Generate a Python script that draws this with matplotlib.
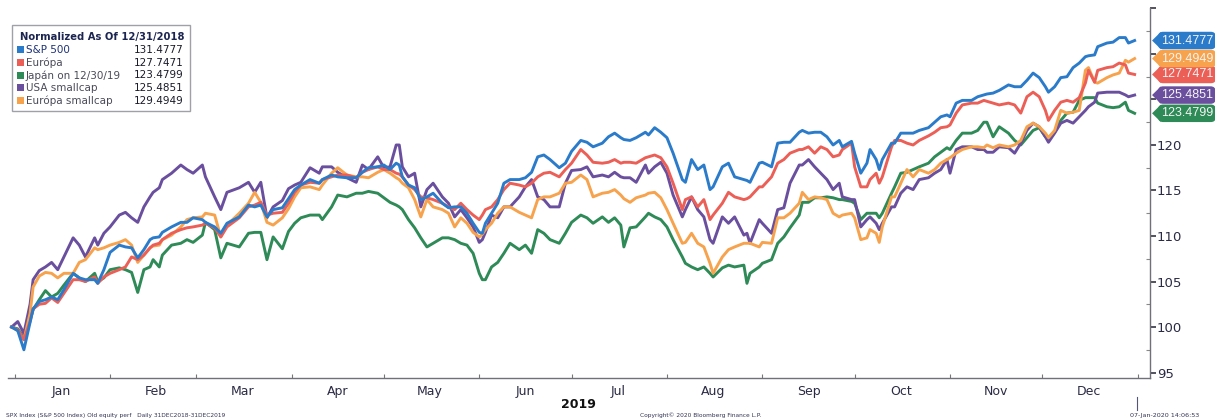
import matplotlib
matplotlib.use("Agg")
import matplotlib.pyplot as plt
import matplotlib.dates as mdates
import matplotlib.transforms as mtrans
from matplotlib.patches import Rectangle, Polygon
import pandas as pd

# ---------------- data ----------------
START = "2018-12-31"
DAYS = [0, 2, 4, 6, 7, 9, 11, 13, 15, 17, 20, 22, 24, 27, 28, 30, 32, 35, 37, 39,
        41, 43, 45, 46, 48, 49, 52, 55, 57, 59, 62, 63, 66, 68, 70, 74, 77, 79, 81, 83,
        85, 88, 90, 92, 94, 97, 100, 101, 104, 106, 109, 112, 114, 116, 119, 121, 123, 125, 126, 127,
        129, 131, 133, 135, 137, 140, 142, 144, 146, 148, 150, 152, 153, 154, 156, 158, 160, 162, 165, 167,
        169, 171, 173, 175, 178, 180, 182, 185, 187, 189, 192, 194, 196, 198, 199, 201, 203, 206, 207, 209,
        211, 213, 215, 218, 219, 221, 223, 225, 227, 228, 231, 233, 235, 238, 239, 240, 243, 244, 247, 249,
        251, 253, 256, 257, 259, 261, 263, 265, 267, 269, 270, 273, 274, 276, 278, 279, 281, 282, 283, 286,
        287, 289, 291, 293, 295, 298, 300, 302, 304, 305, 307, 309, 312, 314, 316, 317, 319, 321, 324, 326,
        328, 330, 332, 334, 336, 337, 339, 341, 343, 345, 347, 349, 350, 352, 353, 356, 358, 360, 362, 363,
        365]

SPX = [100, 99.6, 97.5, 100.5, 102, 102.8, 103, 103.3, 103, 104.1, 105.9, 105.4, 105.2, 105.2, 104.8, 106.3, 108.2, 109, 108.8, 108.7,
       107.6, 108.5, 109.6, 109.8, 109.9, 110.4, 111, 111.5, 111.5, 112, 111.8, 111.5, 111, 110.3, 111.4, 112.1, 113.4, 113.2, 113.4, 112.1,
       112.9, 113.1, 114.1, 115.1, 115.6, 116.2, 115.8, 116.2, 116.7, 116.5, 116.4, 116.4, 117, 117.5, 117.6, 117.8, 117.3, 118, 117.8, 116.5,
       115.6, 115.3, 114, 114.3, 114.7, 113.6, 113.1, 113.2, 113.2, 112.5, 111.4, 110.4, 110.3, 111.4, 112.5, 113.6, 115.8, 116.2, 116.2, 116.4,
       117, 118.7, 118.9, 118.4, 117.5, 118, 119.3, 120.5, 120.3, 119.8, 120.2, 120.9, 121.3, 120.8, 120.6, 120.5, 120.8, 121.4, 121.1, 121.9,
       121.4, 120.8, 119.1, 116.2, 115.9, 118.4, 117.3, 117.8, 115.1, 115.4, 117.6, 118, 116.5, 116.2, 116.1, 115.9, 118, 118.1, 117.6, 120.2,
       120.3, 120.3, 121.4, 121.6, 121.3, 121.4, 121.4, 120.9, 120, 120.5, 119.8, 120.4, 119.1, 116.9, 118, 119.5, 118.4, 117.3, 118.4, 120.2,
       120.2, 121.3, 121.3, 121.3, 121.6, 121.9, 122.5, 123.1, 123.3, 123.1, 124.6, 124.9, 124.9, 125.3, 125.5, 125.6, 125.7, 126, 126.6, 126.4,
       126.4, 127.1, 127.9, 127.4, 126.4, 125.8, 126.4, 127.4, 127.5, 128.5, 129, 129.7, 129.8, 129.9, 130.8, 131.2, 131.3, 131.8, 131.8, 131.2,
       131.4777]

EUROPA = [100, 99.7, 98.6, 100.6, 102, 102.5, 102.6, 103.2, 102.7, 103.7, 105.2, 105.2, 105, 105.5, 104.8, 105.5, 105.9, 106.3, 106.6, 107.7,
          107.4, 107.9, 108.7, 109, 109.2, 109.6, 110.3, 110.7, 110.9, 111, 111.2, 111.4, 110.9, 109.9, 111, 112, 113.2, 113.4, 113.7, 112.3,
          112.5, 112.6, 113.6, 114.8, 115.6, 115.9, 115.8, 116.2, 116.5, 116.7, 116.7, 116.4, 117, 117.3, 117.6, 117.3, 117.3, 116.9, 116.8, 116.5,
          115.6, 115.1, 114.3, 114.2, 114, 113.6, 113.2, 112.9, 113.6, 112.9, 112.3, 111.8, 112.3, 112.9, 113.2, 114, 115.1, 115.8, 115.6, 115.4,
          115.8, 116.5, 116.9, 117, 116.5, 117.3, 118, 119.5, 118.9, 118.1, 118, 118.1, 118.4, 118, 118.1, 118.1, 118, 118.6, 118.7, 118.9,
          118.6, 117.6, 115.8, 112.9, 114, 114.3, 113.2, 114, 111.8, 112.3, 113.6, 114.8, 114.3, 114, 114.1, 114.3, 115.4, 115.4, 116.5, 118,
          118.4, 119.1, 119.5, 119.5, 119.8, 119.1, 119.8, 119.5, 118.7, 118.9, 119.5, 120.2, 117.6, 115.4, 115.4, 116.2, 116.9, 115.8, 116.5, 119.8,
          120.5, 120.5, 120.2, 120, 120.5, 121, 121.4, 121.9, 122, 122.2, 123.5, 124.4, 124.6, 124.6, 124.9, 124.8, 124.6, 124.4, 124.6, 124.4,
          123.5, 125.3, 125.8, 125.3, 123.8, 122.7, 123.8, 124.7, 124.9, 124.7, 125.2, 126.8, 128.2, 126.9, 128.2, 128.5, 128.6, 129, 128.8, 127.9,
          127.7471]

JAPAN = [100, 99.8, 98.8, 100.8, 101.9, 103, 104, 103.3, 103.7, 104.6, 105.9, 105.4, 105, 105.9, 105, 105.4, 106.3, 106.5, 106.3, 106,
         103.8, 106.3, 106.6, 107.4, 106.6, 107.9, 109, 109.2, 109.6, 109.3, 110.1, 111.5, 110.7, 107.6, 109.2, 108.8, 110.3, 110.4, 110.4, 107.4,
         109.9, 108.6, 110.5, 111.4, 112, 112.3, 112.3, 111.8, 113.2, 114.5, 114.3, 114.7, 114.7, 114.9, 114.7, 114.2, 113.7, 113.4, 113.2, 112.9,
         111.8, 110.9, 109.8, 108.8, 109.2, 109.8, 109.8, 109.6, 109.2, 109, 108.1, 105.9, 105.2, 105.2, 106.6, 107.1, 108.1, 109.2, 108.5, 109,
         108.1, 110.7, 110.3, 109.6, 109.2, 110.3, 111.5, 112.3, 112, 111.4, 112.1, 111.5, 112, 111.2, 108.8, 110.9, 111, 112.1, 112.5, 112.1,
         111.8, 111, 109.6, 107.7, 107, 106.6, 106.3, 106.6, 105.9, 105.5, 106.5, 106.8, 106.6, 106.8, 104.8, 105.9, 106.6, 107, 107.4, 109.2,
         109.9, 110.9, 112.3, 113.7, 113.7, 114.2, 114.2, 114.3, 114.2, 114, 114, 113.8, 113.6, 111.8, 112.5, 112.5, 112.5, 112, 112.5, 114.7,
         115.4, 116.9, 117, 117.3, 117.6, 118, 118.7, 119.2, 119.7, 119.5, 120.5, 121.3, 121.3, 121.6, 122.5, 122.5, 120.9, 122, 121.3, 120.5,
         120, 120.8, 121.6, 121.9, 120.9, 120.8, 121.4, 122.7, 123.5, 123.6, 124.9, 125.2, 125.2, 125.2, 124.6, 124.2, 124.1, 124.2, 124.7, 123.8,
         123.4799]

USA_SMALLCAP = [100, 100.6, 99.3, 102.5, 105.2, 106.2, 106.6, 107.1, 106.3, 107.7, 109.8, 109, 107.7, 109.8, 109, 110.3, 111, 112.3, 112.6, 112,
                111.5, 113.2, 114.3, 114.8, 115.3, 116.2, 116.9, 117.8, 117.3, 116.9, 117.8, 116.5, 114.3, 112.9, 114.8, 115.3, 115.9, 114.8, 115.9, 112,
                113.2, 113.9, 115.2, 115.6, 115.9, 117.5, 116.9, 117.6, 117.6, 117, 116.4, 115.9, 117.8, 117.3, 118.7, 117.5, 117.6, 120, 120, 117.6,
                116.5, 116.9, 113.2, 115.1, 115.8, 114.3, 113.6, 112.1, 112.9, 112, 111, 109.3, 109.6, 110.4, 112.3, 112, 113.2, 113.2, 114.3, 115.4,
                116.2, 114.3, 114, 113.2, 113.2, 115.8, 117.2, 117.3, 117.6, 116.5, 116.7, 116.5, 117, 116.5, 116.4, 116.4, 115.9, 117.8, 116.9, 117.6,
                118.1, 116.9, 114.5, 112.1, 112.9, 114.3, 112.9, 112.1, 109.6, 109.2, 112.1, 111.4, 112.1, 110.1, 110.3, 109.2, 111.8, 111.4, 110.3, 112.9,
                113.1, 115.8, 117.8, 117.8, 118.4, 117.6, 116.9, 116.2, 115.1, 115.8, 114.3, 114, 114, 111, 111.8, 112.1, 111.4, 110.7, 111.4, 113.2,
                113.2, 114.7, 115.4, 115.1, 116.2, 116.4, 116.9, 117.3, 118.4, 116.9, 119.5, 119.8, 119.8, 119.5, 119.5, 119.2, 119.2, 119.8, 119.7, 119.1,
                120.2, 121.6, 122.4, 122, 120.9, 120.3, 121.3, 122.4, 122.7, 122.4, 123.1, 123.8, 124.2, 124.7, 125.7, 125.8, 125.8, 125.8, 125.5, 125.3,
                125.4851]

EUROPA_SMALLCAP = [100, 99.6, 98.6, 101.5, 104.4, 105.6, 106, 105.9, 105.4, 105.9, 105.9, 107.1, 107.4, 108.7, 108.5, 108.7, 109, 109.3, 109.6, 109,
                   107.1, 107.9, 108.7, 108.9, 109, 109.6, 110.1, 111, 111.8, 112, 112.1, 112.5, 112.3, 109.9, 111.2, 112.5, 113.6, 114.8, 113.7, 111.5,
                   111.2, 112, 113, 114.3, 115.3, 115.4, 115.1, 115.6, 116.9, 117.5, 116.7, 116.5, 116.5, 116.4, 117, 117.3, 116.9, 116.4, 116.2, 115.8,
                   115.3, 114, 112.1, 114, 113.2, 112.9, 112.5, 111, 112, 111.4, 110.4, 109.9, 110.2, 110.7, 111.4, 112.5, 113.2, 113.2, 112.6, 112.3,
                   112, 114, 114.3, 114.3, 114.7, 115.8, 115.9, 116.7, 116.2, 114.3, 114.7, 114.8, 115.1, 114.5, 114.1, 113.7, 114.2, 114.5, 114.7, 114.8,
                   114.2, 112.9, 111.4, 109.2, 109.3, 110.3, 109.2, 108.8, 107, 105.9, 107.7, 108.5, 108.8, 109.2, 109.2, 109.2, 108.8, 109.3, 109.2, 112,
                   112, 112.5, 113.6, 114.8, 114, 114.3, 114.2, 114, 112.5, 112.1, 112.3, 112.5, 112, 109.6, 109.8, 110.7, 110.3, 109.3, 111, 114.3,
                   114.3, 115.8, 117.3, 116.5, 117.3, 116.9, 117.3, 118, 118.4, 118.6, 119.1, 119.5, 119.8, 119.8, 119.7, 120, 119.7, 120, 119.8, 120,
                   120.5, 122, 122.4, 122, 121.3, 120.8, 121.6, 123.8, 123.5, 123.6, 123.8, 128.2, 128.5, 126.9, 126.8, 127.4, 127.7, 127.9, 129.3, 129.1,
                   129.4949]

SERIES_NAMES = ["S&P 500", "Európa", "Japán on 12/30/19", "USA smallcap", "Európa smallcap"]
LAST_VALUES = ["131.4777", "127.7471", "123.4799", "125.4851", "129.4949"]
MONTH_LABELS = ["Jan", "Feb", "Mar", "Apr", "May", "Jun", "Jul", "Aug", "Sep", "Oct", "Nov", "Dec"]
Y_TICKS = [95, 100, 105, 110, 115, 120]
LEGEND_TITLE = "Normalized As Of 12/31/2018"
YEAR_LABEL = "2019"
FOOT_LEFT = "SPX Index (S&P 500 Index) Old equity perf   Daily 31DEC2018-31DEC2019"
FOOT_MID = "Copyright\u00a9 2020 Bloomberg Finance L.P."
FOOT_RIGHT = "07-Jan-2020 14:06:53"

# ---------------- styling ----------------
COLORS = ["#2b7bcb", "#ec5f57", "#2e8a57", "#6a4f9f", "#f7a24c"]
TEXT = "#2a2a44"
W, H = 1215, 419

def fx(px):
    return px / W

def fy(py):
    return 1 - py / H

dates = pd.Timestamp(START) + pd.to_timedelta(DAYS, unit="D")
series = [SPX, EUROPA, JAPAN, USA_SMALLCAP, EUROPA_SMALLCAP]

fig = plt.figure(figsize=(W / 100, H / 100), dpi=100)
fig.patch.set_facecolor("white")
ax = fig.add_axes([fx(8), fy(378), fx(1150) - fx(8), fy(8) - fy(378)])

# draw order: green, purple, orange, red, blue on top
for idx in [2, 3, 4, 1, 0]:
    ax.plot(dates, series[idx], color=COLORS[idx], lw=2.1, solid_joinstyle="round")

ax.set_xlim(pd.Timestamp("2018-12-29 20:00"), pd.Timestamp("2020-01-05"))
ax.set_ylim(94.4, 135.05)

for s in ["left", "top"]:
    ax.spines[s].set_visible(False)
ax.spines["bottom"].set_color("#6f7078")
ax.spines["right"].set_color("#6f7078")
ax.spines["bottom"].set_linewidth(1.0)
ax.spines["right"].set_linewidth(1.0)

# y axis on right
ax.yaxis.tick_right()
ax.set_yticks(Y_TICKS + [125, 130, 135])
ax.set_yticklabels([str(v) for v in Y_TICKS] + ["", "", ""])
ax.set_yticks([97.5 + 5 * i for i in range(8)], minor=True)
ax.tick_params(axis="y", which="major", direction="out", length=4, width=1.2,
               colors="#333344", labelsize=9.5, pad=1, labelcolor=TEXT)
ax.tick_params(axis="y", which="minor", direction="in", length=3, width=0.8, colors="#888888")

# x axis: ticks at month starts, labels at month middles
ax.xaxis.set_major_locator(mdates.MonthLocator(bymonthday=1))
ax.xaxis.set_major_formatter(plt.NullFormatter())
ax.xaxis.set_minor_locator(mdates.MonthLocator(bymonthday=16))
ax.xaxis.set_minor_formatter(plt.FuncFormatter(lambda v, p: MONTH_LABELS[mdates.num2date(v).month - 1]))
ax.tick_params(axis="x", which="major", direction="in", length=3, width=0.8, colors="#777777")
ax.tick_params(axis="x", which="minor", length=0, labelsize=9, pad=5, labelcolor=TEXT)
ax.grid(False)

# right-hand value tags
blend = mtrans.blended_transform_factory(ax.transAxes, ax.transData)
last_vals = [float(v) for v in LAST_VALUES]
for val, txt, col in zip(last_vals, LAST_VALUES, COLORS):
    ax.text(1.0095, val, txt, transform=blend, ha="left", va="center",
            fontsize=9, family=["Liberation Sans", "DejaVu Sans"],
            color="#f4f4f4", clip_on=False, zorder=10,
            bbox=dict(boxstyle="round,pad=0.22,rounding_size=0.4", fc=col, ec="none"))
    tri = Polygon([[1.0018, val], [1.0095, val + 0.95], [1.0095, val - 0.95]],
                  closed=True, transform=blend, fc=col, ec="none", clip_on=False, zorder=9)
    ax.add_patch(tri)

# legend box
fig.patches.append(Rectangle((fx(12), fy(111)), fx(190) - fx(12), fy(25) - fy(111),
                             transform=fig.transFigure, fc="white", ec="#a0a0a8", lw=1.0, zorder=5))
fig.text(fx(20), fy(37), LEGEND_TITLE, fontsize=7.2, fontweight="bold", color="#1c2450",
         va="center", ha="left", zorder=6)
row_y = [50, 63, 75.5, 88, 100.5]
for i, (name, val, col) in enumerate(zip(SERIES_NAMES, LAST_VALUES, COLORS)):
    fig.patches.append(Rectangle((fx(17), fy(row_y[i] + 3.5)), fx(7), 7 / H,
                                 transform=fig.transFigure, fc=col, ec="none", zorder=6))
    fig.text(fx(26), fy(row_y[i]), name, fontsize=7.5,
             color="#1e3278" if i == 0 else "#4a4a5a", va="center", ha="left", zorder=6)
    fig.text(fx(184), fy(row_y[i]), val, fontsize=7.5, color="#1a1a2a",
             va="center", ha="right", zorder=6)

# bottom texts
fig.text(fx(578), fy(404), YEAR_LABEL, fontsize=9, fontweight="bold", color="#111111",
         ha="center", va="center")
fig.text(fx(6), fy(415), FOOT_LEFT, fontsize=4.2, color="#333355", ha="left", va="center")
fig.text(fx(640), fy(415), FOOT_MID, fontsize=4.2, color="#333355", ha="left", va="center")
fig.text(fx(1130), fy(415), FOOT_RIGHT, fontsize=4.6, color="#333355", ha="left", va="center")
fig.add_artist(plt.Line2D([fx(1137), fx(1137)], [fy(397), fy(410)], transform=fig.transFigure,
                          color="#555577", lw=0.8))

fig.savefig("out.png", dpi=100, facecolor="white")
